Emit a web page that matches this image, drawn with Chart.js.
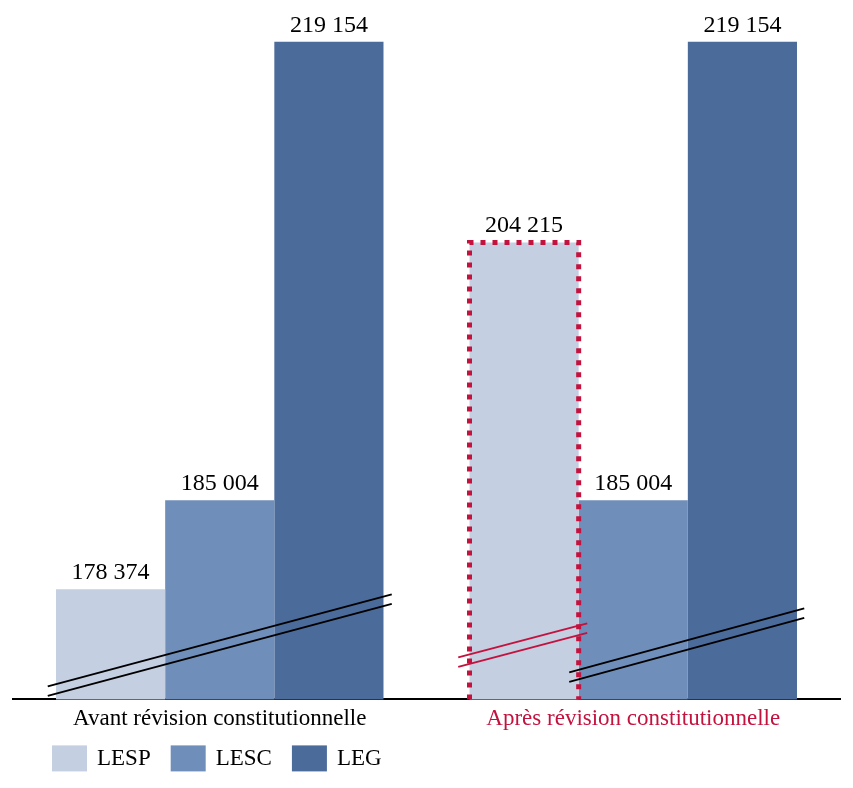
<!DOCTYPE html>
<html lang="fr">
<head>
    <meta charset="UTF-8">
    <title>LESP / LESC / LEG</title>
    <script src="https://cdn.jsdelivr.net/npm/chart.js"></script>
    <style>
        body {
            margin: 0;
            padding: 0;
            background: #fff;
        }

        .container {
            width: 853px;
            height: 788px;
            position: relative;
        }
    </style>
</head>
<body>
    <div class="container">
        <canvas id="chart"></canvas>
    </div>

    <script>
        // Data
        const categories = ['Avant révision constitutionnelle', 'Après révision constitutionnelle'];
        const seriesNames = ['LESP', 'LESC', 'LEG'];
        const lespValues = [178374, 204215];
        const lescValues = [185004, 185004];
        const legValues = [219154, 219154];

        // Broken axis: the scale does not start at zero
        const yMin = 170170;
        const yMax = 221900;

        const colors = ['#C4CFE1', '#6F8EB9', '#4B6B9A'];
        const red = '#C4123F';
        const fontFamily = '"Liberation Serif", "DejaVu Serif", serif';

        // Axis break marks, offsets from category centre and from the baseline (px)
        const breakMarks = [
            { cat: 0, x0: -172, x1: 172, rise0: 13, rise1: 105, color: '#000' },
            { cat: 1, x0: -175, x1: -46, rise0: 42, rise1: 76, color: red },
            { cat: 1, x0: -64, x1: 171, rise0: 27, rise1: 91, color: '#000' }
        ];

        function formatValue(v) {
            return v.toString().replace(/\B(?=(\d{3})+(?!\d))/g, ' ');
        }

        // Value labels above each bar
        const valueLabels = {
            id: 'valueLabels',
            afterDatasetsDraw(chart) {
                const ctx = chart.ctx;
                ctx.save();
                ctx.font = '24px ' + fontFamily;
                ctx.fillStyle = '#000';
                ctx.textAlign = 'center';
                ctx.textBaseline = 'alphabetic';
                chart.data.datasets.forEach((ds, i) => {
                    chart.getDatasetMeta(i).data.forEach((bar, j) => {
                        ctx.fillText(formatValue(ds.data[j]), bar.x, bar.y - 10);
                    });
                });
                ctx.restore();
            }
        };

        // Dotted red frame around the LESP bar after the revision
        const highlight = {
            id: 'highlight',
            afterDatasetsDraw(chart) {
                const bar = chart.getDatasetMeta(0).data[1];
                const bottom = chart.chartArea.bottom;
                const ctx = chart.ctx;
                const left = bar.x - bar.width / 2;
                const right = bar.x + bar.width / 2;
                ctx.save();
                ctx.strokeStyle = red;
                ctx.lineWidth = 5;
                ctx.setLineDash([5, 7]);
                ctx.beginPath();
                ctx.moveTo(left, bottom);
                ctx.lineTo(left, bar.y);
                ctx.lineTo(right, bar.y);
                ctx.lineTo(right, bottom);
                ctx.stroke();
                ctx.restore();
            }
        };

        // Double slashes marking the axis break
        const axisBreaks = {
            id: 'axisBreaks',
            afterDatasetsDraw(chart) {
                const ctx = chart.ctx;
                const x = chart.scales.x;
                const base = chart.chartArea.bottom;
                ctx.save();
                ctx.lineWidth = 2;
                breakMarks.forEach(m => {
                    const cx = x.getPixelForValue(m.cat);
                    ctx.strokeStyle = m.color;
                    [0, 9.5].forEach(off => {
                        ctx.beginPath();
                        ctx.moveTo(cx + m.x0, base - m.rise0 + off);
                        ctx.lineTo(cx + m.x1, base - m.rise1 + off);
                        ctx.stroke();
                    });
                });
                ctx.restore();
            }
        };

        // Legend drawn under the axis
        const bottomLegend = {
            id: 'bottomLegend',
            afterDraw(chart) {
                const ctx = chart.ctx;
                let px = chart.chartArea.left + 39;
                const top = chart.chartArea.bottom + 46;
                ctx.save();
                ctx.font = '23px ' + fontFamily;
                ctx.textBaseline = 'middle';
                ctx.textAlign = 'left';
                chart.data.datasets.forEach(ds => {
                    ctx.fillStyle = ds.backgroundColor;
                    ctx.fillRect(px, top, 35, 26);
                    ctx.fillStyle = '#000';
                    ctx.fillText(ds.label, px + 45, top + 14);
                    px += 45 + ctx.measureText(ds.label).width + 20;
                });
                ctx.restore();
            }
        };

        const ctx = document.getElementById('chart').getContext('2d');
        const myChart = new Chart(ctx, {
            type: 'bar',
            data: {
                labels: categories,
                datasets: [
                    { label: seriesNames[0], data: lespValues, backgroundColor: colors[0] },
                    { label: seriesNames[1], data: lescValues, backgroundColor: colors[1] },
                    { label: seriesNames[2], data: legValues, backgroundColor: colors[2] }
                ]
            },
            options: {
                responsive: true,
                maintainAspectRatio: false,
                animation: false,
                layout: {
                    padding: { left: 13, right: 13, top: 5, bottom: 49 }
                },
                datasets: {
                    bar: {
                        categoryPercentage: 0.792,
                        barPercentage: 1,
                        borderWidth: 0
                    }
                },
                plugins: {
                    legend: { display: false },
                    tooltip: { enabled: false }
                },
                scales: {
                    x: {
                        z: 1,
                        grid: { display: false, drawTicks: false },
                        border: { display: true, color: '#000', width: 2 },
                        ticks: {
                            padding: 6,
                            font: { family: fontFamily, size: 23 },
                            color: c => c.index === 1 ? red : '#000'
                        }
                    },
                    y: {
                        display: false,
                        min: yMin,
                        max: yMax
                    }
                }
            },
            plugins: [axisBreaks, highlight, valueLabels, bottomLegend]
        });
    </script>
</body>
</html>
